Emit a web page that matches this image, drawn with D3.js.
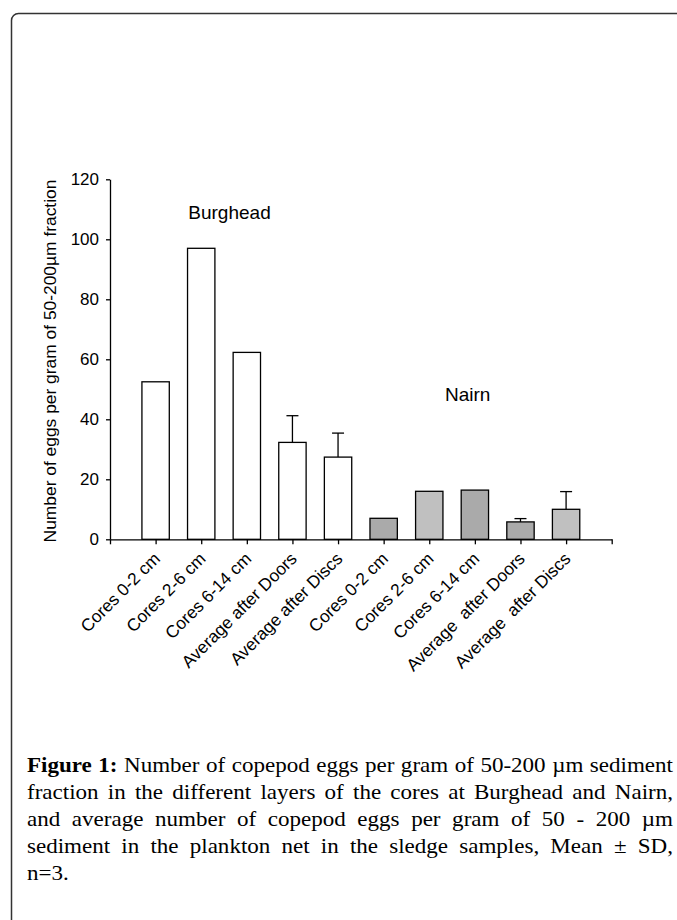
<!DOCTYPE html>
<html><head><meta charset="utf-8">
<script src="https://cdn.jsdelivr.net/npm/d3@7"></script>
<style>body{margin:0;background:#fff;overflow:hidden}</style>
</head><body><svg id="c" width="677" height="920"></svg>
<script>
// ---- data ----
const categories = ["Cores 0-2 cm","Cores 2-6 cm","Cores 6-14 cm","Average after Doors","Average after Discs",
                    "Cores 0-2 cm","Cores 2-6 cm","Cores 6-14 cm","Average  after Doors","Average  after Discs"];
const sites = ["Burghead","Burghead","Burghead","Burghead","Burghead","Nairn","Nairn","Nairn","Nairn","Nairn"];
const values = [52.5, 97.0, 62.3, 32.3, 27.4, 7.0, 16.0, 16.4, 5.8, 10.0];
const sds    = [0, 0, 0, 8.9, 8.0, 0, 0, 0, 1.1, 5.9];
const shades = ["white","white","white","white","white","dark","light","dark","dark","light"];
const yTicks = [0, 20, 40, 60, 80, 100, 120];
const yTitle = "Number of eggs per gram of 50-200\u00B5m fraction";
const captionLines = [
  "Number of copepod eggs per gram of 50-200 \u00B5m sediment",
  "fraction in the different layers of the cores at Burghead and Nairn,",
  "and average number of copepod eggs per gram of 50 - 200 \u00B5m",
  "sediment in the plankton net in the sledge samples, Mean \u00B1 SD,",
  "n=3."
];
const captionLabel = "Figure 1:";

// ---- drawing ----
const svg = d3.select("#c");
const fillColor = {white:"#ffffff", dark:"#aaaaaa", light:"#c0c0c0"};
const sans = "'Liberation Sans', Arial, sans-serif";

// frame
svg.append("rect").attr("x",11.5).attr("y",13.5).attr("width",720).attr("height",960)
  .attr("rx",7).attr("fill","none").attr("stroke","#333").attr("stroke-width",1.5);

const x0 = 110, x1 = 611.7, yBase = 539.3, yTop = 179.3;
const x = d3.scaleLinear().domain([-1, categories.length]).range([x0, x1]);
const y = d3.scaleLinear().domain([0, 120]).range([yBase, yTop]);
const step = x(1) - x(0);
const bw = step * 0.6;

const g = svg.append("g");

// bars
g.selectAll("rect.bar").data(values).join("rect").attr("class","bar")
  .attr("x",(d,i)=>x(i)-bw/2).attr("width",bw)
  .attr("y",d=>y(d)).attr("height",d=>y(0)-y(d))
  .attr("fill",(d,i)=>fillColor[shades[i]]).attr("stroke","#000").attr("stroke-width",1.3);

// error bars (upper only)
const eb = values.map((v,i)=>({v, sd:sds[i], i})).filter(d=>d.sd>0);
g.selectAll("line.eb").data(eb).join("line").attr("class","eb")
  .attr("x1",d=>x(d.i)).attr("x2",d=>x(d.i)).attr("y1",d=>y(d.v)).attr("y2",d=>y(d.v+d.sd))
  .attr("stroke","#000").attr("stroke-width",1.3);
g.selectAll("line.cap").data(eb).join("line").attr("class","cap")
  .attr("x1",d=>x(d.i)-6).attr("x2",d=>x(d.i)+6).attr("y1",d=>y(d.v+d.sd)).attr("y2",d=>y(d.v+d.sd))
  .attr("stroke","#000").attr("stroke-width",1.3);

// y axis
const ya = g.append("g").attr("transform",`translate(${x0},0)`)
  .call(d3.axisLeft(y).tickValues(yTicks).tickSize(4).tickSizeOuter(0).tickPadding(7));
ya.selectAll("path,line").attr("stroke","#000").attr("stroke-width",1.3);
ya.selectAll("text").attr("font-family",sans).attr("font-size",17).attr("fill","#000");

// x axis
const xa = g.append("g").attr("transform",`translate(0,${yBase})`)
  .call(d3.axisBottom(x).tickValues(d3.range(-1, categories.length+1)).tickFormat("").tickSize(5).tickSizeOuter(0));
xa.selectAll("path,line").attr("stroke","#000").attr("stroke-width",1.3);

// x labels
g.selectAll("text.xl").data(categories).join("text").attr("class","xl")
  .attr("transform",(d,i)=>`translate(${x(i)+5.5},${yBase+20.5}) rotate(-45)`)
  .attr("text-anchor","end").attr("font-family",sans).attr("font-size",17.3)
  .style("white-space","pre").text(d=>d);

// y title
g.append("text").attr("transform",`translate(55.5,361) rotate(-90)`)
  .attr("text-anchor","middle").attr("font-family",sans).attr("font-size",17.4).text(yTitle);

// site labels
const siteNames = Array.from(new Set(sites));
const sitePos = {Burghead:[188.3,219.3], Nairn:[445,401]};
g.selectAll("text.site").data(siteNames).join("text").attr("class","site")
  .attr("x",d=>sitePos[d][0]).attr("y",d=>sitePos[d][1])
  .attr("font-family",sans).attr("font-size",19).text(d=>d);

// caption (justified; glyphs widened horizontally since the reference serif is wider)
const capX = 27, capW = 646, capY0 = 771.5, capDY = 27;
const serif = "'Liberation Serif', 'Times New Roman', serif";
const capTexts = captionLines.map((line,i)=>{
  const gg = svg.append("g");
  const t = gg.append("text").attr("x",0).attr("y",0)
    .attr("font-family",serif).attr("font-size",20).attr("fill","#000")
    .style("white-space","pre");
  let full = line;
  if(i===0){
    t.append("tspan").attr("font-weight","bold").text(captionLabel);
    t.append("tspan").text(" "+line);
    full = captionLabel+" "+line;
  } else {
    t.text(line);
  }
  return {gg, t, full, i};
});
const wMax = Math.max(capTexts[0].t.node().getComputedTextLength(), capTexts[1].t.node().getComputedTextLength());
const sx = Math.max(1, (capW - 8) / wMax);
capTexts.forEach(c=>{
  c.gg.attr("transform",`translate(${capX},${capY0+c.i*capDY}) scale(${sx},1)`);
  if(c.i < captionLines.length-1){
    const w = c.t.node().getComputedTextLength();
    const spaces = (c.full.match(/ /g)||[]).length;
    c.t.attr("word-spacing", (capW/sx - w)/spaces);
  }
});
</script>
</body></html>
